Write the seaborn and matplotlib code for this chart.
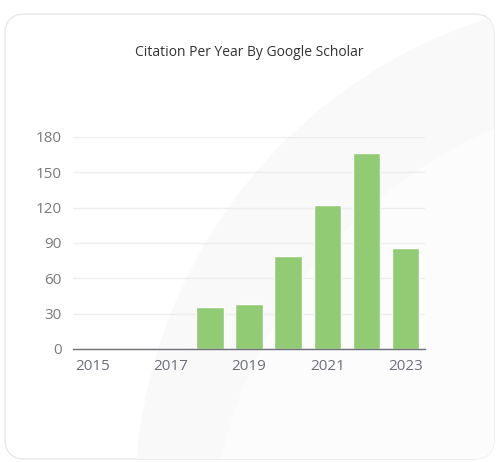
import seaborn as sns
import matplotlib.pyplot as plt
import pandas as pd
from matplotlib.patches import FancyBboxPatch, Circle

# datos
years = ["2015", "2016", "2017", "2018", "2019", "2020", "2021", "2022", "2023"]
citations = [0, 0, 0, 36, 38, 79, 122, 166, 86]
y_ticks = [0, 30, 60, 90, 120, 150, 180]
x_labels_shown = ["2015", "2017", "2019", "2021", "2023"]

data = pd.DataFrame({"year": years, "citations": citations})

sns.set_style("white")
plt.rcParams['font.family'] = ['Open Sans', 'DejaVu Sans']

W, H = 501, 462
fig = plt.figure(figsize=(W / 100, H / 100), dpi=100)
fig.patch.set_facecolor("white")

# tarjeta de fondo con borde redondeado
bg = fig.add_axes([0, 0, 1, 1])
bg.set_xlim(0, W)
bg.set_ylim(H, 0)
bg.axis("off")
card = FancyBboxPatch((5, 14), 489, 445, boxstyle="round,pad=0,rounding_size=20",
                      facecolor="white", edgecolor="#e8e8e8", linewidth=1.0)
bg.add_patch(card)
arc1 = Circle((640, 500), 505, facecolor="#f9f9f9", edgecolor="none")
arc1.set_clip_path(card)
bg.add_patch(arc1)
arc2 = Circle((680, 560), 470, facecolor="#fcfcfc", edgecolor="none")
arc2.set_clip_path(card)
bg.add_patch(arc2)

bg.text(249.5, 52, "Citation Per Year By Google Scholar", ha="center", va="center",
        fontsize=10, color="#333333")

# grafico de barras
ax = fig.add_axes([73 / W, (H - 349) / H, 352 / W, 212 / H])
ax.patch.set_alpha(0)
sns.barplot(data=data, x="year", y="citations", order=years, color="#91cc75",
            width=0.7, saturation=1, ax=ax)

ax.set_xlim(-0.5, len(years) - 0.5)
ax.set_ylim(0, 180)
ax.set_yticks(y_ticks)
ax.set_yticklabels([str(v) for v in y_ticks], fontsize=11, color="#7a7a7a")
ax.yaxis.grid(True, color="#eeeeee", linewidth=1)
ax.set_axisbelow(True)
ax.tick_params(axis="y", length=0, pad=8)

# marcas en los limites de categoria, etiquetas cada dos
ax.set_xticks([-0.5, 1.5, 3.5, 5.5, 7.5, 8.5])
ax.set_xticklabels([])
ax.set_xticks([years.index(y) for y in x_labels_shown], minor=True)
ax.set_xticklabels(x_labels_shown, minor=True, fontsize=11, color="#6e7079")
ax.tick_params(axis="x", which="major", length=5, width=1, color="#6e7079", direction="out")
ax.tick_params(axis="x", which="minor", length=0, pad=7)

for s in ["top", "right", "left"]:
    ax.spines[s].set_visible(False)
ax.spines["bottom"].set_color("#6e7079")
ax.spines["bottom"].set_linewidth(1)
ax.set_xlabel("")
ax.set_ylabel("")

fig.savefig("out.png", dpi=100)
